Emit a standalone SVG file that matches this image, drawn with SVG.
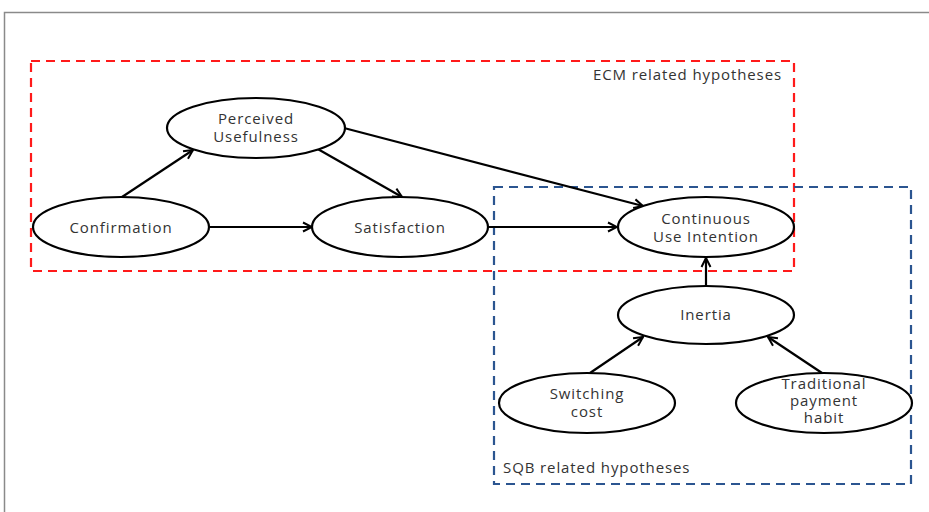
<svg xmlns="http://www.w3.org/2000/svg" width="929" height="512" viewBox="0 0 929 512">
  <style>
    .node ellipse { fill: #ffffff; stroke: #000000; stroke-width: 2.2; }
    .node text, .label { font-family: "Open Sans", "Noto Sans", sans-serif; font-size: 15px; letter-spacing: 0.9px; fill: #333333; text-anchor: middle; }
    .edge { stroke: #000000; stroke-width: 2.2; fill: none; marker-end: url(#arrow); }
    .group-ecm { fill: none; stroke: #ff1a1a; stroke-width: 2.2; stroke-dasharray: 9 6; }
    .group-sqb { fill: none; stroke: #2b5590; stroke-width: 2.2; stroke-dasharray: 9 6; }
  </style>
  <defs>
    <marker id="arrow" viewBox="0 0 12 12" refX="11" refY="6" markerWidth="12" markerHeight="12" markerUnits="userSpaceOnUse" orient="auto">
      <path d="M2,1.5 L11,6 L2,10.5" fill="none" stroke="#000000" stroke-width="2"/>
    </marker>
  </defs>

  <rect width="929" height="512" fill="#ffffff"/>
  <!-- outer frame -->
  <path d="M4.5,512 V12.5 H929" fill="none" stroke="#8a8a8a" stroke-width="1.5"/>

  <!-- hypothesis groups -->
  <g id="ecm-group">
    <rect class="group-ecm" x="31" y="61" width="763" height="210"/>
    <text class="label" x="782" y="80" style="text-anchor:end">ECM related hypotheses</text>
  </g>
  <g id="sqb-group">
    <rect class="group-sqb" x="494" y="187" width="417" height="297"/>
    <text class="label" x="503" y="473" style="text-anchor:start">SQB related hypotheses</text>
  </g>

  <!-- connectors -->
  <g id="connectors">
    <line class="edge" x1="122" y1="197" x2="193" y2="150"/>
    <line class="edge" x1="316" y1="148" x2="402" y2="197"/>
    <line class="edge" x1="344" y1="128" x2="643" y2="206"/>
    <line class="edge" x1="210" y1="227" x2="312" y2="227"/>
    <line class="edge" x1="488" y1="227" x2="617" y2="227"/>
    <line class="edge" x1="706" y1="286" x2="706" y2="258"/>
    <line class="edge" x1="590" y1="373" x2="643" y2="337"/>
    <line class="edge" x1="822" y1="373" x2="768" y2="337"/>
  </g>

  <!-- nodes -->
  <g id="perceived-usefulness" class="node">
    <ellipse cx="256" cy="128" rx="89" ry="30"/>
    <text x="256" y="124">Perceived</text>
    <text x="256" y="142">Usefulness</text>
  </g>
  <g id="confirmation" class="node">
    <ellipse cx="121" cy="227" rx="88" ry="30"/>
    <text x="121" y="233">Confirmation</text>
  </g>
  <g id="satisfaction" class="node">
    <ellipse cx="400" cy="227" rx="88" ry="30"/>
    <text x="400" y="233">Satisfaction</text>
  </g>
  <g id="continuous-use-intention" class="node">
    <ellipse cx="706" cy="227" rx="88" ry="30"/>
    <text x="706" y="224">Continuous</text>
    <text x="706" y="242">Use Intention</text>
  </g>
  <g id="inertia" class="node">
    <ellipse cx="706" cy="315" rx="88" ry="29"/>
    <text x="706" y="320">Inertia</text>
  </g>
  <g id="switching-cost" class="node">
    <ellipse cx="587" cy="403" rx="88" ry="30"/>
    <text x="587" y="399">Switching</text>
    <text x="587" y="417">cost</text>
  </g>
  <g id="traditional-payment-habit" class="node">
    <ellipse cx="824" cy="403" rx="88" ry="30"/>
    <text x="824" y="389">Traditional</text>
    <text x="824" y="406">payment</text>
    <text x="824" y="423">habit</text>
  </g>
</svg>
